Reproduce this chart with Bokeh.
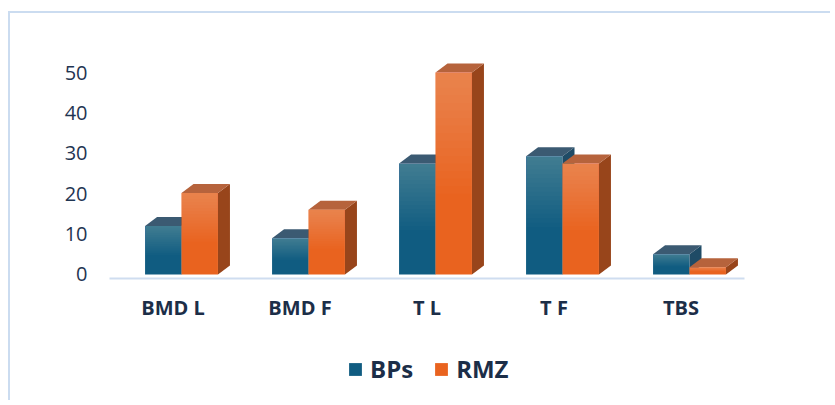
from bokeh.plotting import figure
from bokeh.layouts import column
from bokeh.models import FixedTicker, Legend, LegendItem, ColumnDataSource
from bokeh.embed import file_html
from bokeh.resources import INLINE

# ---- data ----
categories = ["BMD L", "BMD F", "T L", "T F", "TBS"]
bps = [12, 9, 27.5, 29.3, 5]
rmz = [20.2, 16, 50, 27.5, 1.8]
y_ticks = [0, 10, 20, 30, 40, 50]
series_names = ["BPs", "RMZ"]

# ---- style constants ----
W = 820
DX, DY = 0.0945, 2.23          # 3D depth offset (x units, y units)
BLUE = dict(front="#105c81", top="#3b5a72", side="#1f4b66")
ORANGE = dict(front="#e9631f", top="#b6633c", side="#98451b")
TXT = "#1c2e48"
BANDS = 16

p = figure(width=W, height=327, output_backend="svg", toolbar_location=None,
           x_range=(-0.5, 4.5), y_range=(-1, 53),
           min_border_left=99, min_border_right=86, min_border_top=47,
           min_border_bottom=62, background_fill_color="white",
           border_fill_color="white")
p.outline_line_color = None
p.xgrid.visible = False
p.ygrid.visible = False

xs = list(range(len(categories)))
offsets = {"BPs": (-0.22, 0.067), "RMZ": (0.067, 0.354)}


def bar3d(values, l_off, r_off, col):
    left = [x + l_off for x in xs]
    right = [x + r_off for x in xs]
    side_x = [[r, r + DX, r + DX, r] for r in right]
    side_y = [[0, DY, v + DY, v] for v in values]
    top_x = [[l, r, r + DX, l + DX] for l, r in zip(left, right)]
    top_y = [[v, v, v + DY, v + DY] for v in values]
    p.patches(side_x, side_y, fill_color=col["side"], line_color=None)
    p.patches(top_x, top_y, fill_color=col["top"], line_color=None)
    src = ColumnDataSource(dict(left=left, right=right, top=values,
                                bottom=[0] * len(values)))
    r = p.quad(left="left", right="right", top="top", bottom="bottom",
               source=src, fill_color=col["front"], line_color=None)
    # soft top-light shading of the front face
    for k in range(BANDS):
        p.quad(left=left, right=right, top=values,
               bottom=[v * (0.4 + 0.6 * k / BANDS) for v in values],
               fill_color="white", fill_alpha=0.015, line_color=None)
    return r


bar3d(bps, *offsets["BPs"], BLUE)
bar3d(rmz, *offsets["RMZ"], ORANGE)

# axes
p.xaxis.ticker = FixedTicker(ticks=xs)
p.xaxis.major_label_overrides = {i: c for i, c in zip(xs, categories)}
p.xaxis.axis_line_color = "#cfddf0"
p.xaxis.axis_line_width = 2
p.xaxis.major_tick_line_color = None
p.xaxis.minor_tick_line_color = None
p.xaxis.major_label_standoff = 9
p.xaxis.major_label_text_font = "Open Sans"
p.xaxis.major_label_text_font_style = "bold"
p.xaxis.major_label_text_font_size = "20px"
p.xaxis.major_label_text_color = TXT

p.yaxis.ticker = FixedTicker(ticks=y_ticks)
p.yaxis.axis_line_color = None
p.yaxis.major_tick_line_color = None
p.yaxis.minor_tick_line_color = None
p.yaxis.major_label_standoff = 16
p.yaxis.major_label_text_font = "Open Sans"
p.yaxis.major_label_text_font_size = "20px"
p.yaxis.major_label_text_color = "#1f3552"

# ---- legend strip (its swatch renderers lie outside the strip's view) ----
pl = figure(width=W, height=60, output_backend="svg", toolbar_location=None,
            x_range=(-0.5, 4.5), y_range=(-2, -1), x_axis_type=None, y_axis_type=None,
            min_border=0, background_fill_color="white", border_fill_color="white")
pl.outline_line_color = None
pl.xgrid.visible = False
pl.ygrid.visible = False
lb = pl.quad(left=[x + offsets["BPs"][0] for x in xs], right=[x + offsets["BPs"][1] for x in xs],
             top=bps, bottom=[0] * len(xs), fill_color=BLUE["front"], line_color=None)
lo = pl.quad(left=[x + offsets["RMZ"][0] for x in xs], right=[x + offsets["RMZ"][1] for x in xs],
             top=rmz, bottom=[0] * len(xs), fill_color=ORANGE["front"], line_color=None)
legend = Legend(items=[LegendItem(label=series_names[0], renderers=[lb]),
                       LegendItem(label=series_names[1], renderers=[lo])],
                orientation="horizontal", location=(238, 15),
                glyph_width=16, glyph_height=16, label_standoff=7, spacing=20,
                label_text_font="Open Sans", label_text_font_style="bold",
                label_text_font_size="24px", label_text_color=TXT,
                border_line_color=None, background_fill_alpha=0,
                padding=0, margin=0)
pl.add_layout(legend, "center")

layout = column(p, pl, spacing=0,
                styles={"margin-left": "8px", "margin-top": "11px",
                        "border-left": "2px solid #cbdcf0",
                        "border-top": "2px solid #cbdcf0"})

open("out.html", "w").write(file_html(layout, INLINE))
